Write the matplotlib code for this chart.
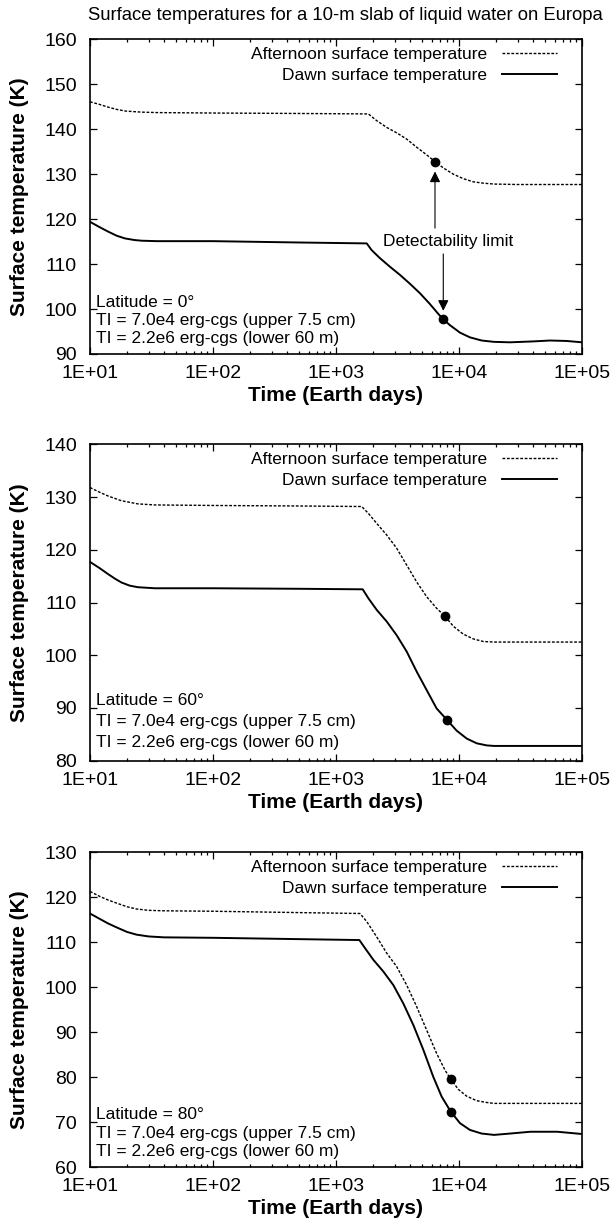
import numpy as np
import matplotlib
matplotlib.use("Agg")
import matplotlib.pyplot as plt
from matplotlib.ticker import LogLocator, FuncFormatter, NullFormatter, MultipleLocator

plt.rcParams['font.family'] = ['Liberation Sans', 'DejaVu Sans']

title = "Surface temperatures for a 10-m slab of liquid water on Europa"
xlabel = "Time (Earth days)"
ylabel = "Surface temperature (K)"
legend_labels = ["Afternoon surface temperature", "Dawn surface temperature"]

# ---------------- Panel 1: latitude 0 ----------------
p1_aft_t = [10, 12, 14.1, 16.5, 19.3, 23, 26.3, 35, 100, 509, 1833, 2143, 2583, 3112, 3755, 4527,
            5457, 6380, 7450, 8985, 10840, 13060, 15770, 19280, 30000, 100000]
p1_aft_T = [146.1, 145.5, 144.9, 144.4, 144.05, 143.9, 143.8, 143.7, 143.6, 143.5, 143.4, 141.9, 140.4,
            139.2, 137.8, 136.0, 134.3, 132.8, 131.4, 130.0, 129.0, 128.3, 128.0, 127.8, 127.7, 127.7]
p1_dawn_t = [10, 12, 14.1, 16.5, 19.3, 23, 26.3, 35, 100, 509, 1778, 1950, 2280, 2748, 3311, 4000, 4820,
             5808, 6795, 7450, 8454, 10190, 12280, 15280, 19280, 26000, 40000, 55000, 75000, 100000]
p1_dawn_T = [119.4, 118.2, 117.2, 116.3, 115.7, 115.35, 115.2, 115.1, 115.1, 114.8, 114.6, 113.1, 111.3,
             109.4, 107.6, 105.6, 103.5, 101.1, 98.9, 97.7, 96.4, 94.75, 93.7, 93.0, 92.7, 92.6, 92.8,
             93.0, 92.9, 92.6]
p1_dots_t = [6380, 7450]
p1_dots_T = [132.8, 97.7]

# ---------------- Panel 2: latitude 60 ----------------
p2_aft_t = [10, 12, 14, 18, 24.5, 33.6, 100, 509, 1618, 1833, 2143, 2583, 3112, 3755, 4527, 5457, 6580,
            7690, 8985, 10840, 13060, 15770, 19280, 100000]
p2_aft_T = [131.8, 130.9, 130.2, 129.3, 128.7, 128.5, 128.4, 128.3, 128.2, 126.9, 125.0, 122.8, 120.3,
            117.1, 113.9, 111.1, 108.9, 107.4, 105.5, 104.0, 103.1, 102.6, 102.5, 102.5]
p2_dawn_t = [10, 12, 14, 16, 18, 21, 24.5, 33.6, 100, 509, 1649, 1833, 2143, 2583, 3112, 3755, 4527,
             5457, 6580, 7940, 9570, 11552, 13920, 16800, 19280, 100000]
p2_dawn_T = [117.7, 116.5, 115.4, 114.5, 113.8, 113.2, 112.9, 112.7, 112.7, 112.6, 112.5, 110.8, 108.6,
             106.4, 103.8, 100.7, 96.9, 93.4, 89.9, 87.8, 85.7, 84.2, 83.3, 82.9, 82.8, 82.8]
p2_dots_t = [7690, 7940]
p2_dots_T = [107.4, 87.8]

# ---------------- Panel 3: latitude 80 ----------------
p3_aft_t = [10, 12, 14, 16.5, 20, 23.9, 30, 40, 100, 509, 1567, 1778, 2143, 2583, 3112, 3755, 4527, 5457,
            6580, 7690, 8556, 9890, 11552, 13920, 16800, 19280, 100000]
p3_aft_T = [121.3, 120.2, 119.4, 118.7, 117.9, 117.4, 117.1, 117.0, 116.9, 116.6, 116.4, 114.6, 111.2,
            107.6, 104.6, 100.5, 95.7, 90.5, 85.3, 81.6, 79.6, 77.3, 75.8, 74.8, 74.4, 74.2, 74.2]
p3_dawn_t = [10, 12, 14, 16.5, 20, 23.9, 30, 40, 100, 509, 1549, 1722, 2013, 2427, 2924, 3527, 4256, 5130,
             6180, 7230, 8556, 10190, 12280, 15280, 19280, 26000, 38000, 63000, 100000]
p3_dawn_T = [116.4, 115.2, 114.2, 113.3, 112.3, 111.7, 111.3, 111.1, 111.0, 110.7, 110.5, 108.7, 106.1,
             103.5, 100.5, 96.4, 91.6, 86.1, 80.1, 75.7, 72.4, 69.8, 68.3, 67.5, 67.2, 67.5, 67.9, 67.9, 67.4]
p3_dots_t = [8556, 8556]
p3_dots_T = [79.6, 72.4]

latitudes = ["0", "60", "80"]
ylims = [(90, 160), (80, 140), (60, 130)]
ti_lines = ["TI = 7.0e4 erg-cgs (upper 7.5 cm)", "TI = 2.2e6 erg-cgs (lower 60 m)"]

panels = [
    (p1_aft_t, p1_aft_T, p1_dawn_t, p1_dawn_T, p1_dots_t, p1_dots_T),
    (p2_aft_t, p2_aft_T, p2_dawn_t, p2_dawn_T, p2_dots_t, p2_dots_T),
    (p3_aft_t, p3_aft_T, p3_dawn_t, p3_dawn_T, p3_dots_t, p3_dots_T),
]

W, H = 614, 1228
fig = plt.figure(figsize=(W / 100, H / 100), dpi=100)

# axes boxes in pixels: (left, top, right, bottom)
boxes = [(90, 39.3, 582, 354), (90, 444.3, 582, 760.7), (90, 852.3, 582, 1167.3)]
text_y = [(0.164, 0.106, 0.050), (0.190, 0.125, 0.058), (0.168, 0.107, 0.049)]

fig.text(345 / W, 1 - 15 / H, title, ha='center', va='center', fontsize=13.3)


def fmt(v, pos):
    e = int(round(np.log10(v)))
    return "1E+%02d" % e


for i, (box, pdata) in enumerate(zip(boxes, panels)):
    l, t, r, b = box
    ax = fig.add_axes([l / W, 1 - b / H, (r - l) / W, (b - t) / H])
    at, aT, dt, dT, xt, xT = pdata
    la, = ax.plot(at, aT, color='black', lw=1.0, linestyle=(0, (2.0, 1.2)),
                  label=legend_labels[0])
    ld, = ax.plot(dt, dT, color='black', lw=1.4, linestyle='-', label=legend_labels[1])
    ax.plot(xt, xT, 'o', color='black', markersize=6, zorder=5)
    ax.set_xscale('log')
    ax.set_xlim(10, 1e5)
    ax.set_ylim(*ylims[i])
    ax.yaxis.set_major_locator(MultipleLocator(10))
    ax.xaxis.set_major_locator(LogLocator(base=10, numticks=10))
    ax.xaxis.set_minor_locator(LogLocator(base=10, subs=np.arange(2, 10), numticks=20))
    ax.xaxis.set_major_formatter(FuncFormatter(fmt))
    ax.xaxis.set_minor_formatter(NullFormatter())
    ax.tick_params(which='both', direction='in', top=True, right=True, width=0.9)
    ax.tick_params(which='major', length=5)
    ax.tick_params(which='minor', length=2.4)
    ax.tick_params(axis='x', which='major', labelsize=14, pad=8)
    ax.tick_params(axis='y', which='major', labelsize=14, pad=9.5)
    for s in ax.spines.values():
        s.set_linewidth(1.2)
    ax.set_xlabel(xlabel, fontsize=15, fontweight='bold')
    ax.set_ylabel(ylabel, fontsize=15, fontweight='bold')
    ax.xaxis.set_label_coords(0.5, -32.0 / (b - t))
    ax.yaxis.set_label_coords((29 - l) / (r - l), 0.5)
    ax.legend(handles=[la, ld], loc='upper right', bbox_to_anchor=(0.950, 0.975),
              markerfirst=False, frameon=False, handlelength=3.2, handletextpad=0.85,
              labelspacing=0.3, borderpad=0, borderaxespad=0, fontsize=12.5)
    lines = ["Latitude = %s\u00b0" % latitudes[i]] + ti_lines
    for yy, txt in zip(text_y[i], lines):
        ax.text(0.0128, yy, txt, transform=ax.transAxes, ha='left', va='center', fontsize=12.5)
    if i == 0:
        ax.text(8222, 115.0, "Detectability limit", ha='center', va='center', fontsize=12.5)
        ax.annotate("", xy=(6380, 130.6), xytext=(6380, 118.0),
                    arrowprops=dict(arrowstyle='-|>', color='black', lw=0.8,
                                    mutation_scale=16, shrinkA=0, shrinkB=0))
        ax.annotate("", xy=(7450, 99.6), xytext=(7450, 112.25),
                    arrowprops=dict(arrowstyle='-|>', color='black', lw=0.8,
                                    mutation_scale=16, shrinkA=0, shrinkB=0))

fig.savefig("out.png", dpi=100)
